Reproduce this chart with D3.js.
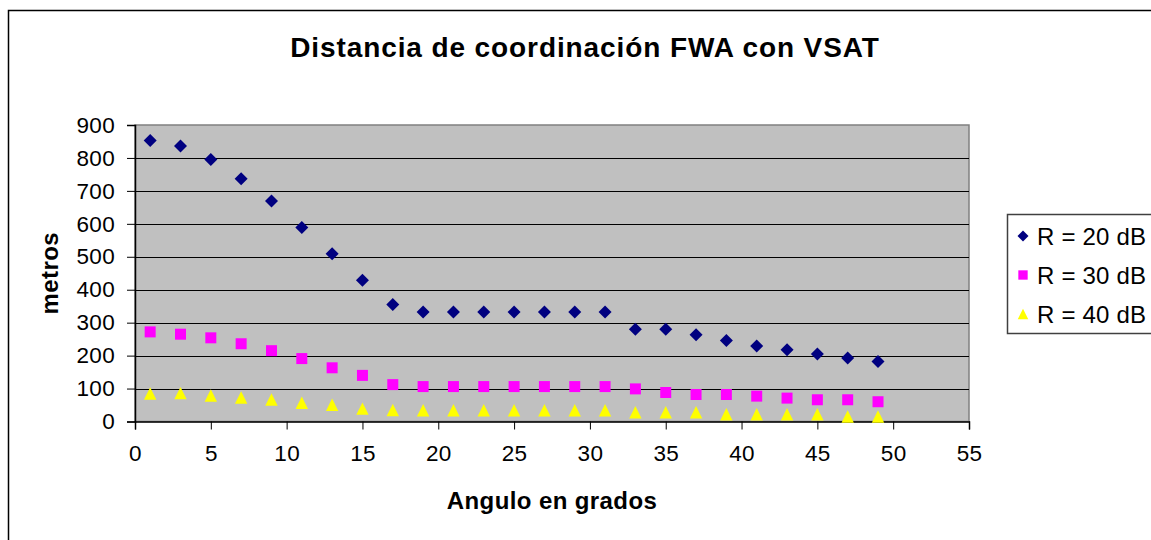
<!DOCTYPE html>
<html>
<head>
<meta charset="utf-8">
<script src="https://cdn.jsdelivr.net/npm/d3@7"></script>
<style>
  body { margin: 0; background: #fff; }
  text { font-family: "Liberation Sans", Arial, sans-serif; fill: #000; }
</style>
</head>
<body>
<div id="chart"></div>
<script>
var angulos = [1,3,5,7,9,11,13,15,17,19,21,23,25,27,29,31,33,35,37,39,41,43,45,47,49];
var r20 = [853,836,795,737,669,589,509,429,355,332,332,332,332,332,332,332,280,280,263,246,229,218,205,193,182];
var r30 = [272,265,254,236,215,191,163,140,112,106,106,106,106,106,106,106,99,88,82,82,77,71,66,66,60];
var r40 = [85,86,79,73,67,57,51,39,35,34,34,34,34,34,34,34,28,28,28,22,22,22,22,15,15];
var seriesNames = ["R = 20 dB", "R = 30 dB", "R = 40 dB"];
var xTicks = [0,5,10,15,20,25,30,35,40,45,50,55];
var yTicks = [0,100,200,300,400,500,600,700,800,900];

var W = 1151, H = 540;
var plot = {left: 135, top: 125, right: 969, bottom: 421.5};

var svg = d3.select("#chart").append("svg")
    .attr("width", W).attr("height", H);

// chart frame
svg.append("rect")
    .attr("x", 8.5).attr("y", 10.5)
    .attr("width", W + 10).attr("height", H + 10)
    .attr("fill", "#fff").attr("stroke", "#000").attr("stroke-width", 1.5);

var x = d3.scaleLinear().domain([0, 55]).range([plot.left, plot.right]);
var y = d3.scaleLinear().domain([0, 900]).range([plot.bottom, plot.top]);

// plot area
svg.append("rect")
    .attr("x", plot.left).attr("y", plot.top)
    .attr("width", plot.right - plot.left).attr("height", plot.bottom - plot.top)
    .attr("fill", "#c0c0c0").attr("stroke", "#808080").attr("stroke-width", 1.5);

// gridlines
svg.append("g").selectAll("line")
    .data(yTicks.slice(1, -1))
    .enter().append("line")
    .attr("x1", plot.left).attr("x2", plot.right)
    .attr("y1", function(d) { return Math.round(y(d)) + 0.5; })
    .attr("y2", function(d) { return Math.round(y(d)) + 0.5; })
    .attr("stroke", "#000").attr("stroke-width", 1);

// axes
var xAxis = svg.append("g")
    .attr("transform", "translate(0," + plot.bottom + ")")
    .call(d3.axisBottom(x).tickValues(xTicks).tickSize(8).tickPadding(12));
var yAxis = svg.append("g")
    .attr("transform", "translate(" + plot.left + ",0)")
    .call(d3.axisLeft(y).tickValues(yTicks).tickSize(8).tickPadding(12));

[xAxis, yAxis].forEach(function(a) {
  a.select(".domain").attr("stroke", "#000").attr("stroke-width", 1.5);
  a.selectAll(".tick line").attr("stroke", "#000");
  a.selectAll(".tick text").style("font-size", "22.5px").style("letter-spacing", "0.3px");
});
xAxis.selectAll(".tick text").attr("dy", "0.85em");

// marker shapes (bounding box centred on the point)
function marker(type, r) {
  if (type === "diamond") return "M0," + (-r) + "L" + r + ",0L0," + r + "L" + (-r) + ",0Z";
  if (type === "square") return "M" + (-r) + "," + (-r) + "H" + r + "V" + r + "H" + (-r) + "Z";
  return "M0," + (-r) + "L" + r + "," + r + "H" + (-r) + "Z";
}
var types = ["diamond", "square", "triangle"];
var radii = [6.5, 5.5, 6.2];
var fills = ["#000080", "#ff00ff", "#ffff00"];
var values = [r20, r30, r40];

values.forEach(function(vals, s) {
  svg.append("g").selectAll("path")
      .data(vals)
      .enter().append("path")
      .attr("transform", function(d, i) { return "translate(" + x(angulos[i]) + "," + y(d) + ")"; })
      .attr("d", marker(types[s], radii[s]))
      .attr("fill", fills[s]);
});

// titles
svg.append("text")
    .attr("x", 585).attr("y", 57)
    .attr("text-anchor", "middle")
    .style("font-size", "28px").style("font-weight", "bold").style("letter-spacing", "0.9px")
    .text("Distancia de coordinación FWA con VSAT");

svg.append("text")
    .attr("x", 552).attr("y", 509)
    .attr("text-anchor", "middle")
    .style("font-size", "24px").style("font-weight", "bold").style("letter-spacing", "0.4px")
    .text("Angulo en grados");

svg.append("text")
    .attr("transform", "translate(58," + ((plot.top + plot.bottom) / 2) + ") rotate(-90)")
    .attr("text-anchor", "middle")
    .style("font-size", "24px").style("font-weight", "bold").style("letter-spacing", "0.4px")
    .text("metros");

// legend
var legend = svg.append("g").attr("transform", "translate(1007,214)");
legend.append("rect")
    .attr("x", 0.5).attr("y", 0.5).attr("width", 160).attr("height", 119)
    .attr("fill", "#fff").attr("stroke", "#404040").attr("stroke-width", 1.5);

seriesNames.forEach(function(name, s) {
  var row = legend.append("g").attr("transform", "translate(0," + (22 + s * 39) + ")");
  row.append("path")
      .attr("transform", "translate(16,0)")
      .attr("d", marker(types[s], radii[s] * 0.85))
      .attr("fill", fills[s]);
  row.append("text")
      .attr("x", 30).attr("y", 0).attr("dy", "0.36em")
      .style("font-size", "24px").style("letter-spacing", "0.2px")
      .text(name);
});
</script>
</body>
</html>
